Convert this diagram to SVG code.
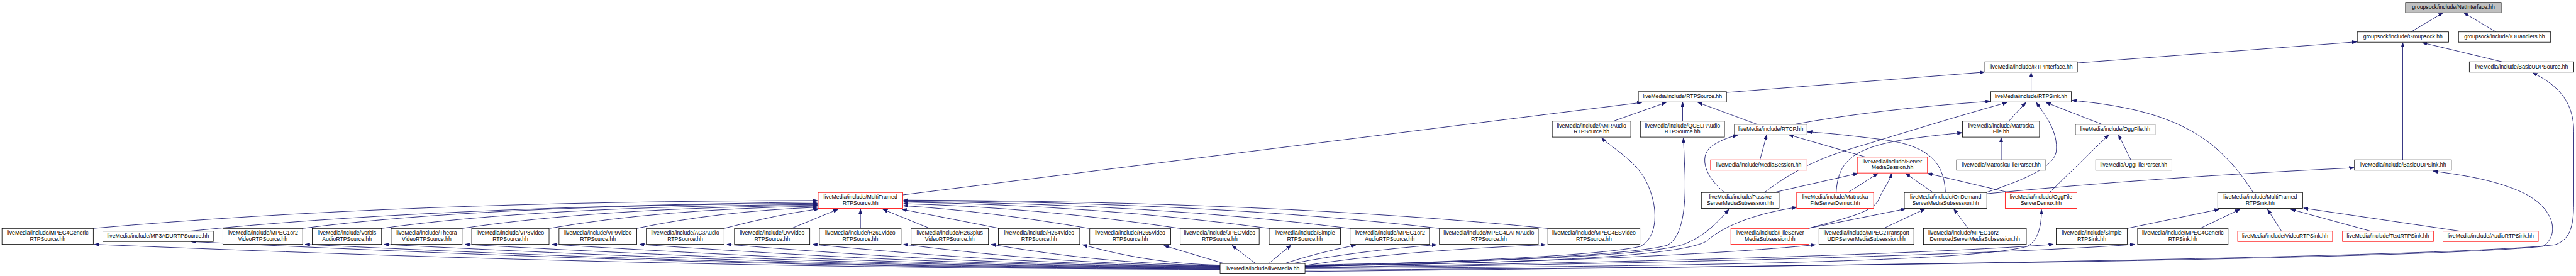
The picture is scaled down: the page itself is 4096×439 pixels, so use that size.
<svg xmlns="http://www.w3.org/2000/svg" width="4096" height="439" viewBox="0 0 4096 439">
<style>
.n rect{fill:#fff;stroke:#000;stroke-width:1.3}
.n.r rect{stroke:#f00}
.n.gr rect{fill:#bfbfbf}
.n text{font-family:"Liberation Sans",Arial,Helvetica,sans-serif;font-size:13.7px;fill:#000;text-anchor:middle}
#edges path{fill:none;stroke:#191970;stroke-width:1.4;marker-end:url(#ah)}
</style>
<defs>
<marker id="ah" viewBox="0 0 12 9" refX="12" refY="4.5" markerWidth="12" markerHeight="9" orient="auto" markerUnits="userSpaceOnUse"><path d="M0,0 L12,4.5 L0,9 Z" fill="#191970" stroke="#191970" stroke-width="0.8"/></marker>
</defs>
<rect width="4096" height="439" fill="#fff"/>
<g transform="scale(0.634)">
<g id="edges">
<path d="M6047,80 L6127,32"/>
<path d="M6260,80 L6179,32"/>
<path d="M5210,158 L5911,105"/>
<path d="M6275,155 L6075,107"/>
<path d="M6026,401 L6026,107"/>
<path d="M5094,230 L5094,182"/>
<path d="M4330,232 L4977,181"/>
<path d="M3273,681 C4600,668 6150,645 6408,614 C6450,600 6455,560 6455,500 L6455,330 C6455,260 6420,215 6352,183"/>
<path d="M4500,312 Q4700,275 4992,254"/>
<path d="M4425,483 C4520,410 4600,385 4680,362 C4800,325 4950,280 5034,257"/>
<path d="M5038,304 L5081,257"/>
<path d="M4978,484 C5080,450 5150,420 5157,380 C5162,330 5130,290 5107,257"/>
<path d="M5272,312 L5131,257"/>
<path d="M5651,483 C5560,340 5450,275 5196,252"/>
<path d="M4407,312 L4258,257"/>
<path d="M4046,304 L4179,257"/>
<path d="M4220,304 L4220,256"/>
<path d="M2264,489 L4118,257"/>
<path d="M4414,401 L4431,338"/>
<path d="M4679,394 L4486,338"/>
<path d="M4325,483 C4272,440 4258,385 4300,362 C4320,350 4340,343 4358,339"/>
<path d="M4879,483 C4876,410 4840,365 4720,350 C4640,340 4580,333 4533,331"/>
<path d="M4605,483 C4610,410 4640,375 4760,353 C4820,343 4880,337 4921,333"/>
<path d="M5019,401 L5019,345"/>
<path d="M5140,483 L5289,338"/>
<path d="M5344,401 L5313,338"/>
<path d="M4449,483 L4660,435"/>
<path d="M4635,483 L4710,435"/>
<path d="M4535,573 C4640,545 4700,530 4712,500 C4725,470 4740,455 4744,435"/>
<path d="M4848,483 L4779,435"/>
<path d="M5038,483 L4834,435"/>
<path d="M4535,573 L4779,524"/>
<path d="M4724,573 L4828,524"/>
<path d="M4936,573 L4900,524"/>
<path d="M4983,486 Q5400,445 5904,421"/>
<path d="M3273,678 C4700,668 6100,648 6378,618 C6420,590 6410,520 6320,480 C6250,450 6180,440 6102,429"/>
<path d="M5335,573 L5566,525"/>
<path d="M5518,573 L5618,525"/>
<path d="M5722,580 L5687,525"/>
<path d="M5946,580 L5745,525"/>
<path d="M6170,580 L5777,522"/>
<path d="M233,573 Q1000,505 2050,503"/>
<path d="M475,580 Q1050,520 2050,507"/>
<path d="M759,573 Q1200,515 2050,510"/>
<path d="M957,573 Q1350,518 2050,513"/>
<path d="M1159,573 Q1500,522 2050,515"/>
<path d="M1378,573 Q1650,525 2050,517"/>
<path d="M1597,573 Q1800,530 2050,520"/>
<path d="M1816,573 Q1950,538 2054,524"/>
<path d="M1985,573 L2102,525"/>
<path d="M2158,573 L2158,525"/>
<path d="M2332,573 L2214,525"/>
<path d="M2507,573 L2262,525"/>
<path d="M2731,573 Q2480,530 2266,516"/>
<path d="M2959,573 Q2600,520 2266,511"/>
<path d="M3183,573 Q2750,515 2266,507"/>
<path d="M3386,573 Q2900,512 2266,505"/>
<path d="M3610,573 Q3050,508 2266,503"/>
<path d="M3882,573 Q3200,505 2266,502"/>
<path d="M3060,676 C1931,673 1084,648 237,613"/>
<path d="M3060,675 C2028,672 1253,644 479,606"/>
<path d="M3060,674 C2142,671 1453,647 765,613"/>
<path d="M3060,673 C2221,670 1592,646 963,613"/>
<path d="M3060,672 C2302,669 1734,645 1166,613"/>
<path d="M3060,671 C2390,668 1888,645 1385,613"/>
<path d="M3060,670 C2478,667 2041,644 1604,613"/>
<path d="M3060,669 C2565,666 2194,644 1823,613"/>
<path d="M3060,668 C2651,665 2345,643 2038,613"/>
<path d="M3060,667 C2742,664 2504,643 2266,613"/>
<path d="M3060,666 C2830,663 2658,642 2486,613"/>
<path d="M3060,665 C2922,662 2818,642 2715,614"/>
<path d="M3070,661 L2919,616"/>
<path d="M3149,661 L3090,616"/>
<path d="M3182,661 L3238,615"/>
<path d="M3222,661 Q3300,635 3400,615"/>
<path d="M3242,661 Q3400,630 3603,614"/>
<path d="M3273,666 Q3500,630 3876,614"/>
<path d="M3273,668 C3800,660 4300,640 4553,614"/>
<path d="M3273,667 C3900,660 4220,640 4280,605 C4330,560 4420,533 4506,520"/>
<path d="M3273,665 C3800,655 4150,640 4225,612 C4280,590 4315,550 4336,525"/>
<path d="M3273,674 C4300,668 4950,655 5085,618 C5115,600 5120,560 5120,526"/>
<path d="M3273,668 C3700,655 4020,640 4115,618 C4165,590 4158,500 4120,440 C4090,395 4035,365 4017,346"/>
<path d="M3273,669 C3700,657 4100,640 4182,615 C4220,595 4228,520 4226,440 L4222,346"/>
<path d="M3273,671 C4000,660 4800,640 5150,613"/>
<path d="M3273,672 C4000,665 5000,640 5354,613"/>
</g>
<g id="n0" class="n gr"><rect x="6033" y="6" width="240" height="26"/><text x="6153" y="22.5">groupsock/include/NetInterface.hh</text></g>
<g id="n1" class="n"><rect x="5912" y="80" width="229" height="26"/><text x="6026.5" y="96.5">groupsock/include/Groupsock.hh</text></g>
<g id="n2" class="n"><rect x="6166" y="80" width="231" height="26"/><text x="6281.5" y="96.5">groupsock/include/IOHandlers.hh</text></g>
<g id="n3" class="n"><rect x="4978" y="155" width="232" height="26"/><text x="5094" y="171.5">liveMedia/include/RTPInterface.hh</text></g>
<g id="n4" class="n"><rect x="6193" y="155" width="262" height="26"/><text x="6324" y="171.5">liveMedia/include/BasicUDPSource.hh</text></g>
<g id="n5" class="n"><rect x="4109" y="230" width="221" height="26"/><text x="4219.5" y="246.5">liveMedia/include/RTPSource.hh</text></g>
<g id="n6" class="n"><rect x="4993" y="230" width="202" height="26"/><text x="5094" y="246.5">liveMedia/include/RTPSink.hh</text></g>
<g id="n7" class="n"><rect x="3893" y="304" width="197" height="40"/><text x="3991.5" y="320">liveMedia/include/AMRAudio</text><text x="3991.5" y="334.5">RTPSource.hh</text></g>
<g id="n8" class="n"><rect x="4114" y="304" width="211" height="40"/><text x="4219.5" y="320">liveMedia/include/QCELPAudio</text><text x="4219.5" y="334.5">RTPSource.hh</text></g>
<g id="n9" class="n"><rect x="4350" y="312" width="182" height="26"/><text x="4441" y="328.5">liveMedia/include/RTCP.hh</text></g>
<g id="n10" class="n"><rect x="4922" y="304" width="193" height="40"/><text x="5018.5" y="320">liveMedia/include/Matroska</text><text x="5018.5" y="334.5">File.hh</text></g>
<g id="n11" class="n"><rect x="5205" y="312" width="200" height="26"/><text x="5305" y="328.5">liveMedia/include/OggFile.hh</text></g>
<g id="n12" class="n r"><rect x="4290" y="401" width="242" height="26"/><text x="4411" y="417.5">liveMedia/include/MediaSession.hh</text></g>
<g id="n13" class="n r"><rect x="4658" y="394" width="176" height="40"/><text x="4746" y="410">liveMedia/include/Server</text><text x="4746" y="424.5">MediaSession.hh</text></g>
<g id="n14" class="n"><rect x="4907" y="401" width="224" height="26"/><text x="5019" y="417.5">liveMedia/MatroskaFileParser.hh</text></g>
<g id="n15" class="n"><rect x="5256" y="401" width="191" height="26"/><text x="5351.5" y="417.5">liveMedia/OggFileParser.hh</text></g>
<g id="n16" class="n"><rect x="5905" y="401" width="243" height="26"/><text x="6026.5" y="417.5">liveMedia/include/BasicUDPSink.hh</text></g>
<g id="n17" class="n r"><rect x="2052" y="483" width="212" height="40"/><text x="2158" y="499">liveMedia/include/MultiFramed</text><text x="2158" y="513.5">RTPSource.hh</text></g>
<g id="n18" class="n"><rect x="4267" y="483" width="195" height="40"/><text x="4364.5" y="499">liveMedia/include/Passive</text><text x="4364.5" y="513.5">ServerMediaSubsession.hh</text></g>
<g id="n19" class="n r"><rect x="4506" y="483" width="193" height="40"/><text x="4602.5" y="499">liveMedia/include/Matroska</text><text x="4602.5" y="513.5">FileServerDemux.hh</text></g>
<g id="n20" class="n"><rect x="4776" y="483" width="207" height="40"/><text x="4879.5" y="499">liveMedia/include/OnDemand</text><text x="4879.5" y="513.5">ServerMediaSubsession.hh</text></g>
<g id="n21" class="n r"><rect x="5029" y="483" width="180" height="40"/><text x="5119" y="499">liveMedia/include/OggFile</text><text x="5119" y="513.5">ServerDemux.hh</text></g>
<g id="n22" class="n"><rect x="5562" y="483" width="213" height="40"/><text x="5668.5" y="499">liveMedia/include/MultiFramed</text><text x="5668.5" y="513.5">RTPSink.hh</text></g>
<g id="n23" class="n"><rect x="5" y="573" width="229" height="40"/><text x="119.5" y="589">liveMedia/include/MPEG4Generic</text><text x="119.5" y="603.5">RTPSource.hh</text></g>
<g id="n24" class="n"><rect x="258" y="580" width="277" height="26"/><text x="396.5" y="596.5">liveMedia/include/MP3ADURTPSource.hh</text></g>
<g id="n25" class="n"><rect x="559" y="573" width="200" height="40"/><text x="659" y="589">liveMedia/include/MPEG1or2</text><text x="659" y="603.5">VideoRTPSource.hh</text></g>
<g id="n26" class="n"><rect x="783" y="573" width="174" height="40"/><text x="870" y="589">liveMedia/include/Vorbis</text><text x="870" y="603.5">AudioRTPSource.hh</text></g>
<g id="n27" class="n"><rect x="981" y="573" width="178" height="40"/><text x="1070" y="589">liveMedia/include/Theora</text><text x="1070" y="603.5">VideoRTPSource.hh</text></g>
<g id="n28" class="n"><rect x="1183" y="573" width="194" height="40"/><text x="1280" y="589">liveMedia/include/VP8Video</text><text x="1280" y="603.5">RTPSource.hh</text></g>
<g id="n29" class="n"><rect x="1402" y="573" width="195" height="40"/><text x="1499.5" y="589">liveMedia/include/VP9Video</text><text x="1499.5" y="603.5">RTPSource.hh</text></g>
<g id="n30" class="n"><rect x="1621" y="573" width="195" height="40"/><text x="1718.5" y="589">liveMedia/include/AC3Audio</text><text x="1718.5" y="603.5">RTPSource.hh</text></g>
<g id="n31" class="n"><rect x="1842" y="573" width="189" height="40"/><text x="1936.5" y="589">liveMedia/include/DVVideo</text><text x="1936.5" y="603.5">RTPSource.hh</text></g>
<g id="n32" class="n"><rect x="2055" y="573" width="205" height="40"/><text x="2157.5" y="589">liveMedia/include/H261Video</text><text x="2157.5" y="603.5">RTPSource.hh</text></g>
<g id="n33" class="n"><rect x="2285" y="573" width="194" height="40"/><text x="2382" y="589">liveMedia/include/H263plus</text><text x="2382" y="603.5">VideoRTPSource.hh</text></g>
<g id="n34" class="n"><rect x="2504" y="573" width="204" height="40"/><text x="2606" y="589">liveMedia/include/H264Video</text><text x="2606" y="603.5">RTPSource.hh</text></g>
<g id="n35" class="n"><rect x="2733" y="573" width="203" height="40"/><text x="2834.5" y="589">liveMedia/include/H265Video</text><text x="2834.5" y="603.5">RTPSource.hh</text></g>
<g id="n36" class="n"><rect x="2960" y="573" width="198" height="40"/><text x="3059" y="589">liveMedia/include/JPEGVideo</text><text x="3059" y="603.5">RTPSource.hh</text></g>
<g id="n37" class="n"><rect x="3183" y="573" width="179" height="40"/><text x="3272.5" y="589">liveMedia/include/Simple</text><text x="3272.5" y="603.5">RTPSource.hh</text></g>
<g id="n38" class="n"><rect x="3386" y="573" width="199" height="40"/><text x="3485.5" y="589">liveMedia/include/MPEG1or2</text><text x="3485.5" y="603.5">AudioRTPSource.hh</text></g>
<g id="n39" class="n"><rect x="3610" y="573" width="248" height="40"/><text x="3734" y="589">liveMedia/include/MPEG4LATMAudio</text><text x="3734" y="603.5">RTPSource.hh</text></g>
<g id="n40" class="n"><rect x="3882" y="573" width="231" height="40"/><text x="3997.5" y="589">liveMedia/include/MPEG4ESVideo</text><text x="3997.5" y="603.5">RTPSource.hh</text></g>
<g id="n41" class="n r"><rect x="4341" y="573" width="196" height="40"/><text x="4439" y="589">liveMedia/include/FileServer</text><text x="4439" y="603.5">MediaSubsession.hh</text></g>
<g id="n42" class="n"><rect x="4562" y="573" width="238" height="40"/><text x="4681" y="589">liveMedia/include/MPEG2Transport</text><text x="4681" y="603.5">UDPServerMediaSubsession.hh</text></g>
<g id="n43" class="n"><rect x="4824" y="573" width="258" height="40"/><text x="4836" y="589" style="text-anchor:start">liveMedia/include/MPEG1or2</text><text x="4953" y="603.5">DemuxedServerMediaSubsession.hh</text></g>
<g id="n44" class="n"><rect x="5157" y="573" width="178" height="40"/><text x="5246" y="589">liveMedia/include/Simple</text><text x="5246" y="603.5">RTPSink.hh</text></g>
<g id="n45" class="n"><rect x="5361" y="573" width="227" height="40"/><text x="5474.5" y="589">liveMedia/include/MPEG4Generic</text><text x="5474.5" y="603.5">RTPSink.hh</text></g>
<g id="n46" class="n r"><rect x="5612" y="580" width="238" height="26"/><text x="5731" y="596.5">liveMedia/include/VideoRTPSink.hh</text></g>
<g id="n47" class="n r"><rect x="5875" y="580" width="228" height="26"/><text x="5989" y="596.5">liveMedia/include/TextRTPSink.hh</text></g>
<g id="n48" class="n r"><rect x="6127" y="580" width="239" height="26"/><text x="6246.5" y="596.5">liveMedia/include/AudioRTPSink.hh</text></g>
<g id="n49" class="n"><rect x="3060" y="661" width="213" height="26"/><text x="3166.5" y="677.5">liveMedia/include/liveMedia.hh</text></g>
</g>
</svg>
